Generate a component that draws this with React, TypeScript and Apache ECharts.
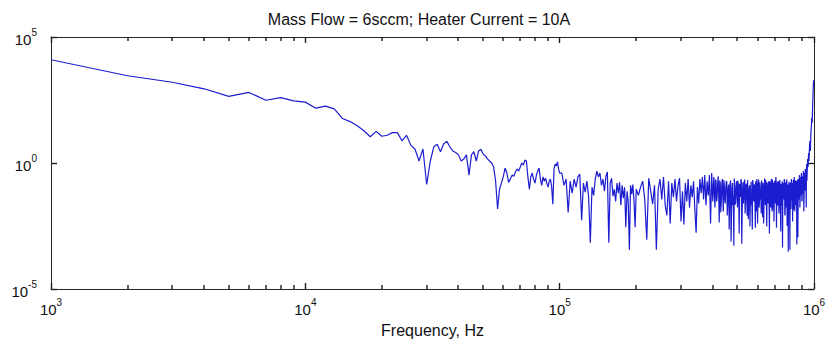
import React, { useEffect, useRef } from "react";
import * as echarts from "echarts";

const chartTitle = "Mass Flow = 6sccm; Heater Current = 10A";
const xAxisName = "Frequency, Hz";

// axis ranges (Hz and PSD units)
const xMin = 1e3;
const xMax = 1e6;
const yMin = 1e-5;
const yMax = 1e5;

// minor tick layout of the log frequency axis
const minorDecades = [1e3, 1e4, 1e5];
const minorMultipliers = [2, 3, 4, 5, 6, 7, 8, 9];

// spectrum: [frequency kHz, value]
const lowBand: [number, number][] = [
  [1, 1.25e4], [2, 2.9e3], [3, 1.6e3], [4, 8.8e2], [5, 4.4e2],
  [6, 6.3e2], [7, 3.1e2], [8, 3.9e2], [9, 2.9e2], [10, 2.6e2],
];

const midBand: [number, number][] = [
  [11, 150], [12, 180], [13, 140], [14, 58], [15, 44], [16, 30], [17, 19], [18, 11], [19, 18], [20, 11.5],
  [21, 12.6], [22, 16], [23, 16], [24, 7.6], [25, 12.6], [26, 5], [27, 3.5], [28, 1.2], [29, 3.6], [30, 0.14],
  [31, 1.2], [32, 4.4], [33, 5.5], [34, 2.8], [35, 5.8], [36, 7.2], [37, 4.4], [38, 3.0], [39, 2.6], [40, 2.1],
  [41, 1.2], [42, 1.45], [43, 2.1], [44, 0.33], [45, 2.1], [46, 2.8], [47, 1.2], [48, 3.0], [49, 3.5], [50, 2.3],
  [51, 1.9], [52, 1.45], [53, 1.2], [54, 1.0], [55, 0.69], [56, 0.19], [57, 0.015], [58, 0.091], [59, 0.16], [60, 0.28],
  [61, 0.63], [62, 0.4], [63, 0.17], [64, 0.23], [65, 0.33], [66, 0.3], [67, 0.44], [68, 0.58], [69, 0.48], [70, 0.69],
  [71, 1.0], [72, 0.83], [73, 1.3], [74, 1.2], [75, 0.28], [76, 0.091], [77, 0.28], [78, 0.4], [79, 0.23], [80, 0.16],
  [81, 0.33], [82, 0.48], [83, 0.63], [84, 0.23], [85, 0.13], [86, 0.28], [87, 0.19], [88, 0.25], [89, 0.16], [90, 0.11],
  [91, 0.19], [92, 0.23], [93, 0.11], [94, 0.023], [95, 0.58], [96, 0.91], [97, 0.76], [98, 1.1], [99, 0.58], [100, 0.4],
];

const highBandA: [number, number][] = [
  [102, 0.4], [104, 0.13], [106, 0.23], [108, 0.011], [110, 0.19],
  [112, 0.063], [114, 0.23], [116, 0.11], [118, 0.28], [120, 0.36],
  [122, 0.0053], [124, 0.16], [126, 0.069], [128, 0.19], [130, 0.044],
  [132, 6.9e-4], [134, 0.11], [136, 0.052], [138, 0.23], [140, 0.48],
  [142, 0.28], [144, 0.4], [146, 0.13], [148, 0.23], [150, 0.076],
  [152, 0.3], [154, 0.44], [156, 6.9e-4], [158, 0.16], [160, 0.25],
  [162, 0.048], [164, 0.091], [166, 0.03], [168, 0.16], [170, 0.063],
  [172, 0.17], [174, 0.021], [176, 0.13], [178, 0.04], [180, 0.11],
  [182, 0.0028], [184, 0.076], [186, 0.03], [188, 3.6e-4], [190, 0.13],
  [192, 0.058], [194, 0.14], [196, 0.03], [198, 0.0028], [200, 0.091],
];

const highBandB: [number, number][] = [
  [204, 0.052], [208, 0.11], [212, 0.19], [216, 0.036], [220, 9e-4],
  [224, 0.25], [228, 0.076], [232, 0.023], [236, 0.13], [240, 3.6e-4],
  [244, 0.091], [248, 0.23], [252, 0.036], [256, 0.28], [260, 0.021],
  [264, 0.0083], [268, 0.19], [272, 0.004], [276, 0.16], [280, 0.044],
  [284, 0.23], [288, 0.03], [292, 0.13], [296, 0.25], [300, 0.0048],
  [304, 0.076], [308, 0.0036], [312, 0.16], [316, 0.03], [320, 0.23],
  [324, 0.017], [328, 0.13], [332, 0.044], [336, 0.19], [340, 0.015],
  [344, 0.0017], [348, 0.11], [352, 0.025], [356, 0.23], [360, 0.063],
  [364, 0.28], [368, 0.036], [372, 0.33], [376, 0.021], [380, 0.19],
  [384, 0.052], [388, 0.33], [392, 0.004], [396, 0.4], [400, 0.03],
  [404, 0.28], [408, 0.017], [412, 0.19], [416, 0.044], [420, 0.3],
  [424, 0.0044], [428, 0.16], [432, 0.03], [436, 0.23], [440, 0.012],
  [444, 0.13], [448, 0.025], [452, 0.19], [456, 0.0083], [460, 0.11],
  [464, 0.0023], [468, 0.16], [472, 7.6e-4], [476, 0.091], [480, 0.021],
  [484, 5.2e-4], [488, 0.11], [492, 0.03], [496, 0.19], [500, 0.017],
  [504, 0.14], [508, 0.0016], [512, 0.076], [516, 0.23], [520, 6.3e-4],
  [524, 0.091], [528, 0.025], [532, 0.19], [536, 0.01], [540, 0.13],
  [544, 0.036], [548, 0.21], [552, 0.0058], [556, 0.11], [560, 0.003],
  [564, 0.076], [568, 0.021], [572, 0.0023], [576, 0.16], [580, 0.03],
  [584, 0.13], [588, 0.0027], [592, 0.063], [596, 0.23], [600, 0.004],
  [604, 0.11], [608, 0.017], [612, 0.17], [616, 0.036], [620, 0.01],
  [624, 0.16], [628, 0.007], [632, 0.091], [636, 0.03], [640, 0.25],
  [644, 0.021], [648, 0.13], [652, 0.003], [656, 0.076], [660, 0.025],
  [664, 0.19], [668, 0.0016], [672, 0.11], [676, 0.017], [680, 0.23],
  [684, 0.012], [688, 0.16], [692, 0.036], [696, 0.0048], [700, 0.13],
  [704, 0.025], [708, 0.28], [712, 0.0027], [716, 0.091], [720, 0.021],
  [724, 0.19], [728, 0.01], [732, 0.13], [736, 0.03], [740, 0.0019],
  [744, 0.11], [748, 0.021], [752, 4.4e-4], [756, 0.16], [760, 0.036],
  [764, 0.23], [768, 0.0083], [772, 0.076], [776, 0.017], [780, 0.19],
  [784, 0.0032], [788, 0.11], [792, 3e-4], [796, 0.063], [800, 0.03],
  [804, 3.6e-4], [808, 0.16], [812, 0.015], [816, 0.23], [820, 0.044],
  [824, 0.0048], [828, 0.13], [832, 0.03], [836, 0.28], [840, 0.012],
  [844, 0.11], [848, 0.021], [852, 0.19], [856, 5.8e-4], [860, 0.091],
  [864, 0.0011], [868, 0.23], [872, 0.036], [876, 0.33], [880, 0.017],
  [884, 0.28], [888, 0.052], [892, 0.4], [896, 0.03], [900, 0.3],
  [904, 0.076], [908, 0.48], [912, 0.012], [916, 0.4], [920, 0.11],
  [924, 0.58], [928, 0.23], [932, 0.017], [936, 0.91], [940, 0.4],
  [944, 1.45], [948, 0.69], [952, 2.5], [956, 1.2], [960, 4.4],
  [964, 7.6], [968, 3.0], [972, 16], [976, 25], [980, 63],
  [984, 40], [988, 210], [992, 630], [996, 1900], [1000, 1500],
];

// in-between bins of the dense band, 400 kHz and up
const highBandC: [number, number][] = [
  [402, 0.12], [406, 0.05], [410, 0.22], [414, 0.03], [418, 0.15],
  [422, 0.06], [426, 0.2], [430, 0.011], [434, 0.14], [438, 0.045],
  [442, 0.21], [446, 0.035], [450, 0.1], [454, 0.18], [458, 0.028],
  [462, 0.14], [466, 0.04], [470, 0.2], [474, 0.009], [478, 0.16],
  [482, 0.05], [486, 0.24], [490, 0.022], [494, 0.12], [498, 0.06],
  [502, 0.2], [506, 0.03], [510, 0.15], [514, 0.045], [518, 0.19],
  [522, 0.014], [526, 0.17], [530, 0.05], [534, 0.22], [538, 0.035],
  [542, 0.15], [546, 0.008], [550, 0.2], [554, 0.06], [558, 0.13],
  [562, 0.04], [566, 0.18], [570, 0.025], [574, 0.21], [578, 0.05],
  [582, 0.14], [586, 0.03], [590, 0.19], [594, 0.012], [598, 0.15],
  [602, 0.05], [606, 0.22], [610, 0.028], [614, 0.12], [618, 0.06],
  [622, 0.2], [626, 0.035], [630, 0.16], [634, 0.004], [638, 0.14],
  [642, 0.05], [646, 0.21], [650, 0.03], [654, 0.17], [658, 0.045],
  [662, 0.13], [666, 0.02], [670, 0.19], [674, 0.06], [678, 0.15],
  [682, 0.035], [686, 0.22], [690, 0.014], [694, 0.17], [698, 0.05],
  [702, 0.2], [706, 0.03], [710, 0.14], [714, 0.055], [718, 0.18],
  [722, 0.025], [726, 0.16], [730, 0.045], [734, 0.21], [738, 0.012],
  [742, 0.15], [746, 0.05], [750, 0.19], [754, 0.03], [758, 0.13],
  [762, 0.06], [766, 0.2], [770, 0.009], [774, 0.17], [778, 0.04],
  [782, 0.22], [786, 0.03], [790, 0.14], [794, 0.05], [798, 0.18],
  [802, 0.02], [806, 0.15], [810, 0.055], [814, 0.2], [818, 0.035],
  [822, 0.16], [826, 0.05], [830, 0.21], [834, 0.014], [838, 0.17],
  [842, 0.045], [846, 0.2], [850, 0.03], [854, 0.15], [858, 0.06],
  [862, 0.22], [866, 0.025], [870, 0.18], [874, 0.05], [878, 0.24],
  [882, 0.04], [886, 0.19], [890, 0.07], [894, 0.26], [898, 0.035],
  [902, 0.2], [906, 0.06], [910, 0.3], [914, 0.045], [918, 0.25],
  [922, 0.08], [926, 0.35], [930, 0.1], [934, 0.5], [938, 0.2],
];

export default function App() {
  const ref = useRef<HTMLDivElement>(null);

  useEffect(() => {
    if (!ref.current) return;
    const chart = echarts.init(ref.current, null, { renderer: "svg" });
    const font = "'Liberation Sans', Arial, Helvetica, sans-serif";
    const axisColor = "#262626";
    const tickColor = "#1e1e1e";
    const textColor = "#111111";

    const spectrum = [...lowBand, ...midBand, ...highBandA, ...highBandB, ...highBandC]
      .slice()
      .sort((a, b) => a[0] - b[0])
      .map(([k, v]) => [k * 1000, v]);
    const minorTicks = minorDecades.flatMap((d) => minorMultipliers.map((m) => [m * d, 1]));

    const powLabel = (v: number) => `{b|10}{s|${Math.round(Math.log10(v))}}`;
    const rich = {
      b: { fontSize: 15, lineHeight: 20, verticalAlign: "bottom", color: textColor, fontFamily: font },
      s: { fontSize: 10, lineHeight: 11, verticalAlign: "top", color: textColor, fontFamily: font },
    };

    const baseX = {
      type: "log",
      logBase: 10,
      min: xMin,
      max: xMax,
      interval: 1,
      splitLine: { show: false },
      axisLine: { show: true, lineStyle: { color: axisColor, width: 1 } },
      axisTick: { show: true, inside: true, length: 6, lineStyle: { color: tickColor, width: 1.4 } },
    };
    const baseY = {
      type: "log",
      logBase: 10,
      min: yMin,
      max: yMax,
      interval: 5,
      splitLine: { show: false },
      axisLine: { show: true, lineStyle: { color: axisColor, width: 1 } },
      axisTick: { show: true, inside: true, length: 6, lineStyle: { color: tickColor, width: 1.4 } },
    };

    chart.setOption({
      animation: false,
      backgroundColor: "#ffffff",
      title: {
        text: chartTitle,
        left: "center",
        top: 6,
        textStyle: { fontSize: 16, fontWeight: "normal", color: textColor, fontFamily: font },
      },
      grid: { left: 51, right: 24, top: 37, bottom: 56, containLabel: false },
      xAxis: [
        {
          ...baseX,
          position: "bottom",
          name: xAxisName,
          nameLocation: "middle",
          nameGap: 33,
          nameTextStyle: { fontSize: 16, color: textColor, fontFamily: font },
          axisLabel: { show: true, margin: 8, formatter: powLabel, rich },
        },
        { ...baseX, position: "top", axisLabel: { show: false } },
      ],
      yAxis: [
        {
          ...baseY,
          position: "left",
          axisLabel: { show: true, margin: 14, formatter: powLabel, rich },
        },
        { ...baseY, position: "right", axisLabel: { show: false } },
      ],
      series: [
        {
          type: "line",
          xAxisIndex: 0,
          yAxisIndex: 0,
          data: spectrum,
          showSymbol: false,
          symbol: "none",
          lineStyle: { color: "#1c1cd0", width: 1.2 },
          silent: true,
          z: 2,
        },
        {
          type: "custom",
          xAxisIndex: 0,
          yAxisIndex: 0,
          silent: true,
          clip: false,
          z: 5,
          data: minorTicks,
          renderItem: (_params: any, api: any) => {
            const f = api.value(0);
            const b = api.coord([f, yMin]);
            const t = api.coord([f, yMax]);
            const x = Math.round(b[0]);
            return {
              type: "group",
              children: [
                {
                  type: "line",
                  shape: { x1: x, y1: b[1], x2: x, y2: b[1] - 4 },
                  style: { stroke: tickColor, lineWidth: 1.4 },
                },
                {
                  type: "line",
                  shape: { x1: x, y1: t[1], x2: x, y2: t[1] + 4 },
                  style: { stroke: tickColor, lineWidth: 1.4 },
                },
              ],
            };
          },
        },
      ],
    });

    return () => chart.dispose();
  }, []);

  return (
    <div
      ref={ref}
      style={{ position: "absolute", left: 0, top: 0, width: 838, height: 345, background: "#fff" }}
    />
  );
}
